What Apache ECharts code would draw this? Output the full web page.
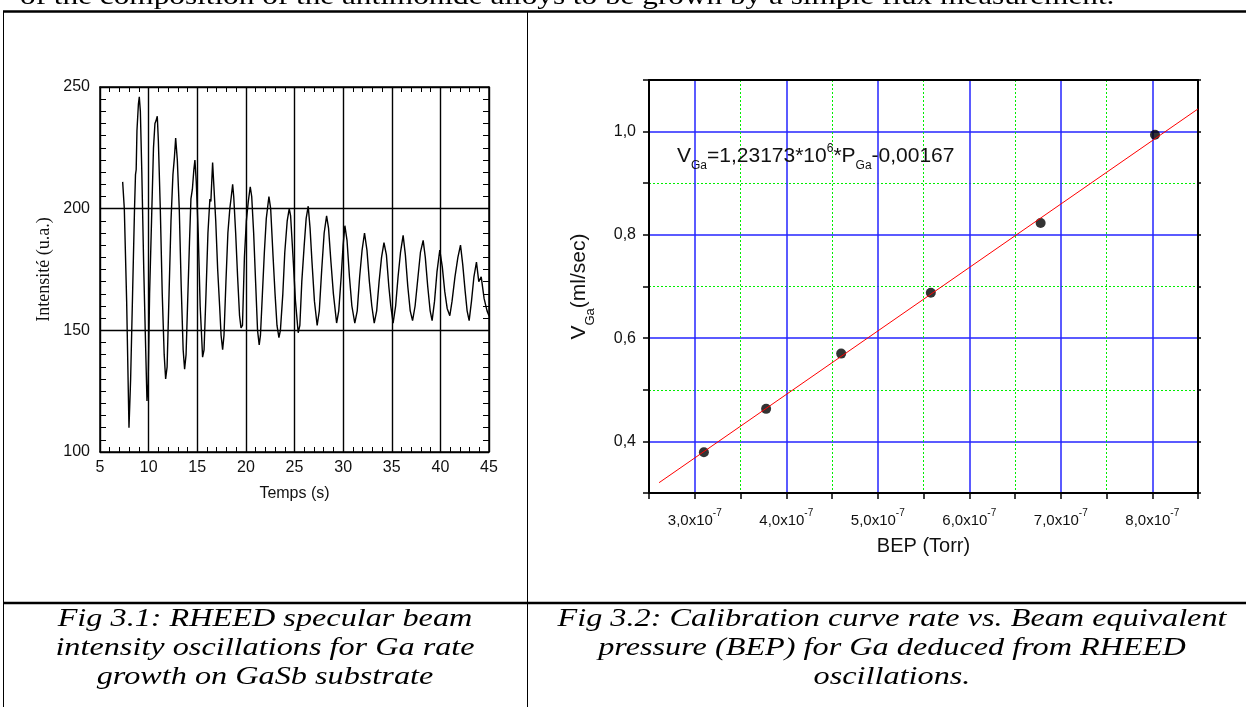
<!DOCTYPE html>
<html>
<head>
<meta charset="utf-8">
<title>RHEED oscillations / Ga calibration</title>
<script src="https://cdn.jsdelivr.net/npm/echarts@6.0.0/dist/echarts.min.js"></script>
<style>
  html, body { margin: 0; padding: 0; background: #fff; }
  #chart { width: 1246px; height: 707px; }
</style>
</head>
<body>
<div id="chart"></div>
<script>
// Fig 3.1 — oscillations RHEED : temps (s) / intensité (u.a.)
const rheedTime = [
  7.33, 7.5, 7.74, 7.98, 8.15, 8.35, 8.55, 8.65, 8.72, 8.8, 8.95, 9.04, 9.15, 9.3, 9.5, 9.65, 9.83,
  9.95, 10.1, 10.3, 10.5, 10.65, 10.75, 10.89, 11.0, 11.2, 11.4, 11.6, 11.75,
  11.9, 12.1, 12.3, 12.5, 12.65, 12.78, 12.95, 13.15, 13.35, 13.55, 13.7,
  13.85, 14.0, 14.2, 14.35, 14.5, 14.65, 14.76, 14.9, 15.1, 15.3, 15.55,
  15.7, 15.9, 16.1, 16.3, 16.4, 16.58, 16.7, 16.9, 17.1, 17.3, 17.45, 17.61,
  17.75, 17.95, 18.15, 18.35, 18.5, 18.64, 18.75, 18.95, 19.15, 19.35, 19.5,
  19.65, 19.85, 20.05, 20.25, 20.45, 20.6, 20.8, 21.0, 21.2, 21.37,
  21.5, 21.7, 21.9, 22.1, 22.37, 22.55, 22.8, 23.0, 23.2, 23.4,
  23.55, 23.8, 24.0, 24.25, 24.46, 24.6, 24.85, 25.1, 25.38,
  25.55, 25.75, 26.0, 26.2, 26.41, 26.6, 26.8, 27.05, 27.33,
  27.55, 27.8, 28.05, 28.3, 28.5, 28.75, 29.0, 29.33,
  29.55, 29.8, 30.0, 30.18, 30.4, 30.65, 30.9, 31.2,
  31.45, 31.7, 31.95, 32.2, 32.45, 32.7, 32.95, 33.2,
  33.45, 33.7, 33.95, 34.2, 34.45, 34.7, 34.9, 35.14,
  35.4, 35.65, 35.9, 36.17, 36.4, 36.65, 36.9, 37.14,
  37.4, 37.7, 37.95, 38.23, 38.45, 38.7, 38.95, 39.15,
  39.4, 39.65, 39.94, 40.2, 40.45, 40.7, 40.97,
  41.2, 41.5, 41.8, 42.07, 42.3, 42.55, 42.75, 42.96,
  43.2, 43.45, 43.71, 43.95, 44.2, 44.5, 44.8, 45.0
]
const rheedIntensity = [
  211, 200, 162, 110, 130, 165, 200, 214, 216, 232, 243, 246, 240, 215, 175, 150, 121,
  128, 165, 195, 225, 235, 236, 238, 228, 200, 165, 140, 130,
  135, 165, 195, 214, 221, 229, 220, 200, 168, 142, 134,
  140, 160, 186, 204, 208, 216, 220, 211, 190, 160, 139,
  142, 165, 190, 204, 203, 219, 210, 195, 175, 160, 148, 142,
  148, 170, 190, 200, 205, 210, 205, 190, 172, 156, 151,
  152, 180, 195, 203, 209, 205, 190, 170, 150, 144,
  148, 165, 182, 196, 205, 200, 180, 165, 152, 147,
  150, 165, 182, 195, 200, 197, 180, 162, 149,
  152, 170, 185, 196, 201, 192, 178, 162, 152,
  158, 175, 190, 197, 192, 178, 165, 153,
  158, 172, 185, 193, 187, 172, 160, 153,
  158, 172, 183, 190, 183, 170, 160, 153,
  158, 170, 180, 186, 181, 168, 160, 153,
  160, 172, 182, 189, 181, 168, 158, 154,
  160, 172, 182, 187, 180, 168, 158, 154,
  162, 174, 183, 176, 166, 159, 156,
  162, 172, 180, 185, 177, 166, 158, 154,
  162, 172, 178, 170, 172, 163, 158, 156
]

// Fig 3.2 — BEP (x10^-7 Torr) / vitesse de croissance Ga (ml/sec)
const bepPressure = [3.1, 3.78, 4.6, 5.58, 6.78, 8.03]
const gaRate = [0.379, 0.463, 0.570, 0.688, 0.823, 0.994]
// droite d'ajustement : extrémités
const fitPressure = [2.61, 8.5]
const fitRate = [0.320, 1.044]

const equation = '{m|V}{sub|Ga}{m|=1,23173*10}{sup|6}{m|*P}{sub|Ga}{m|-0,00167}'

const topLine = 'of the composition of the antimonide alloys to be grown by a simple flux measurement.'
const captionLeft = [
  'Fig 3.1: RHEED specular beam',
  'intensity oscillations for Ga rate',
  'growth on GaSb substrate',
]
const captionRight = [
  'Fig 3.2: Calibration curve rate vs. Beam equivalent',
  'pressure (BEP) for Ga deduced from RHEED',
  'oscillations.',
]

// ---- mise en page ----
const SANS = 'Arial, "Liberation Sans", sans-serif'
const SERIF = '"Times New Roman", "Liberation Serif", serif'
const CAPTION_FONT = 'italic 25px ' + SERIF
const BODY_FONT = '25px ' + SERIF
// la capture du document est étirée horizontalement
const TEXT_STRETCH = 1.29
const captionCenters = [265, 892]
const captionMiddles = [619.5, 648.3, 677]
const BLUE = '#2424ff'
const GREEN = '#00ee00'
const NONE = 'rgba(0,0,0,0)'

const zip = (xs, ys) => xs.map((x, i) => [x, ys[i]])
const comma = (v, d) => v.toFixed(d).replace('.', ',')

function captionText(text, x, y) {
  return {
    type: 'text', x, y, scaleX: TEXT_STRETCH,
    style: { text, font: CAPTION_FONT, fill: '#000', align: 'center', verticalAlign: 'middle' },
  }
}

function rule(x1, y1, x2, y2, w) {
  return { type: 'line', shape: { x1, y1, x2, y2 }, style: { stroke: '#000', lineWidth: w } }
}

const graphics = [
  rule(3, 11.5, 1246, 11.5, 2.5),
  rule(3, 603, 1246, 603, 2.5),
  rule(3.5, 11, 3.5, 707, 1),
  rule(527.5, 11, 527.5, 707, 1),
  {
    type: 'text', x: 20, y: -2.4, scaleX: 1.25,
    style: { text: topLine, font: BODY_FONT, fill: '#000', align: 'left', verticalAlign: 'middle' },
  },
  {
    type: 'text', x: 677, y: 138.5, z: 10,
    style: {
      text: equation, verticalAlign: 'top', align: 'left', fill: '#111',
      rich: {
        m: { fontFamily: SANS, fontSize: 21, padding: [7, 0, 0, 0], verticalAlign: 'top' },
        sub: { fontFamily: SANS, fontSize: 12, padding: [21.5, 0, 0, 0], verticalAlign: 'top' },
        sup: { fontFamily: SANS, fontSize: 12, padding: [4.5, 0, 0, 0], verticalAlign: 'top' },
      },
    },
  },
]
captionLeft.forEach((t, i) => graphics.push(captionText(t, captionCenters[0], captionMiddles[i])))
captionRight.forEach((t, i) => graphics.push(captionText(t, captionCenters[1], captionMiddles[i])))

const blackLine = (w) => ({ show: true, lineStyle: { color: '#000', width: w } })
const greenDots = { show: true, lineStyle: { color: [GREEN, NONE], type: [2, 2], width: 1 } }
const blueGrid = { show: true, lineStyle: { color: [NONE, BLUE], width: 1.5 } }

// axes de la fig 3.1 (cadre fermé, graduations internes)
const rheedX = (pos) => ({
  gridIndex: 0, type: 'value', position: pos, min: 5, max: 45, interval: 5,
  axisLine: blackLine(1.5),
  axisTick: { show: true, inside: true, length: 6, lineStyle: { color: '#000' } },
  minorTick: { show: true, splitNumber: 5, length: 5, lineStyle: { color: '#000' } },
  axisLabel: { show: pos === 'bottom', margin: 8, fontSize: 16, fontFamily: SANS, color: '#111' },
  splitLine: { show: pos === 'bottom', lineStyle: { color: '#000', width: 1.4 } },
})
const rheedY = (pos) => ({
  gridIndex: 0, type: 'value', position: pos, min: 100, max: 250, interval: 50,
  axisLine: blackLine(1.5),
  axisTick: { show: true, inside: true, length: 6, lineStyle: { color: '#000' } },
  minorTick: { show: true, splitNumber: 10, length: 6, lineStyle: { color: '#000' } },
  axisLabel: { show: pos === 'left', margin: 10, fontSize: 16, fontFamily: SANS, color: '#111' },
  splitLine: { show: pos === 'left', lineStyle: { color: '#000', width: 1.4 } },
})

const option = {
  animation: false,
  backgroundColor: '#fff',
  graphic: graphics,
  grid: [
    { left: 100, top: 87, width: 389, height: 365 },
    { left: 649, top: 80, width: 549, height: 413 },
  ],
  xAxis: [
    Object.assign(rheedX('bottom'), {
      name: 'Temps (s)', nameLocation: 'middle', nameGap: 34,
      nameTextStyle: { fontSize: 16, fontFamily: SANS, color: '#111' },
    }),
    rheedX('top'),
    {
      // bas : graduations tous les 0,5, grille verte pointillée
      gridIndex: 1, type: 'value', position: 'bottom', min: 2.5, max: 8.5, interval: 0.5,
      axisLine: blackLine(2),
      axisTick: { show: true, length: 6, lineStyle: { color: '#000', width: 1.5 } },
      axisLabel: {
        margin: 15, color: '#111',
        formatter: (v) => (Math.round(v * 2) % 2 ? '' : '{n|' + comma(v, 1) + 'x10}{e|-7}'),
        rich: {
          n: { fontSize: 15, fontFamily: SANS, padding: [5, 0, 0, 0], verticalAlign: 'top' },
          e: { fontSize: 10, fontFamily: SANS, padding: [0, 0, 0, 0], verticalAlign: 'top' },
        },
      },
      splitLine: greenDots,
      name: 'BEP (Torr)', nameLocation: 'middle', nameGap: 43,
      nameTextStyle: { fontSize: 20, fontFamily: SANS, color: '#111' },
    },
    {
      // haut : grille bleue aux valeurs entières
      gridIndex: 1, type: 'value', position: 'top', min: 2.5, max: 8.5, interval: 0.5,
      axisLine: blackLine(2), axisTick: { show: false }, axisLabel: { show: false },
      splitLine: blueGrid,
    },
  ],
  yAxis: [
    Object.assign(rheedY('left'), {
      name: 'Intensité (u.a.)', nameLocation: 'middle', nameGap: 47,
      nameTextStyle: { fontSize: 18, fontFamily: SERIF, color: '#111' },
    }),
    rheedY('right'),
    {
      gridIndex: 1, type: 'value', position: 'left', min: 0.3, max: 1.1, interval: 0.1,
      axisLine: blackLine(2),
      axisTick: { show: true, length: 6, lineStyle: { color: '#000', width: 1.5 } },
      axisLabel: {
        margin: 13, fontSize: 16, fontFamily: SANS, color: '#111',
        formatter: (v) => { const k = Math.round(v * 10); return k % 2 ? '' : comma(v, 1) },
      },
      splitLine: greenDots,
      name: '{m|V}{s|Ga}{m|(ml/sec)}', nameLocation: 'middle', nameGap: 52,
      nameTextStyle: {
        color: '#111',
        rich: {
          m: { fontSize: 21, fontFamily: SANS, padding: [0, 0, 0, 0], verticalAlign: 'top' },
          s: { fontSize: 13, fontFamily: SANS, padding: [15, 0, 0, 0], verticalAlign: 'top' },
        },
      },
    },
    {
      gridIndex: 1, type: 'value', position: 'right', min: 0.3, max: 1.1, interval: 0.1,
      axisLine: blackLine(2),
      axisTick: { show: true, length: 3, lineStyle: { color: '#000', width: 1.5 } },
      axisLabel: { show: false },
      splitLine: blueGrid,
    },
  ],
  series: [
    {
      type: 'line', xAxisIndex: 0, yAxisIndex: 0,
      data: zip(rheedTime, rheedIntensity),
      showSymbol: false, symbol: 'none',
      lineStyle: { color: '#000', width: 1.4 },
    },
    {
      type: 'line', xAxisIndex: 2, yAxisIndex: 2,
      data: zip(fitPressure, fitRate),
      showSymbol: false, symbol: 'none',
      lineStyle: { color: '#ff0000', width: 1 },
    },
    {
      type: 'scatter', xAxisIndex: 2, yAxisIndex: 2,
      data: zip(bepPressure, gaRate),
      symbol: 'circle', symbolSize: 10,
      itemStyle: { color: '#000' },
    },
  ],
}

const chart = echarts.init(document.getElementById('chart'), null, { renderer: 'canvas' })
chart.setOption(option)
</script>
</body>
</html>
